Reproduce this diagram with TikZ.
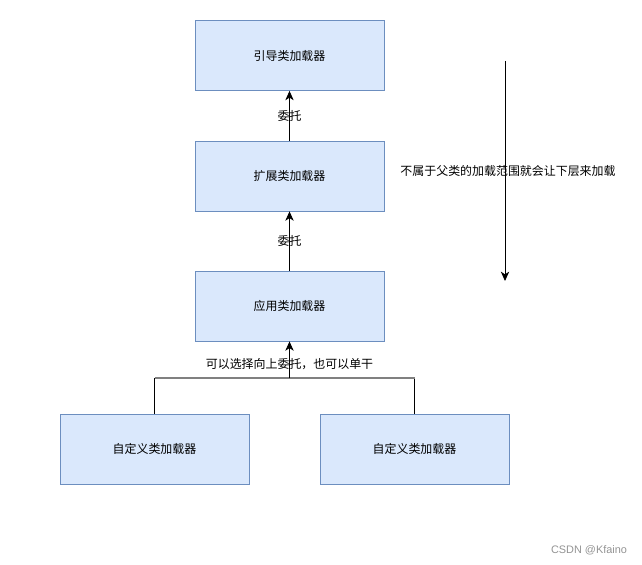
\documentclass[tikz,border=0pt]{standalone}
\usepackage{fontspec}
\newfontfamily\cjk{Noto Sans CJK SC}
\newfontfamily\markfont{Liberation Sans}
\usetikzlibrary{arrows.meta}
\definecolor{boxfill}{HTML}{DAE8FC}
\definecolor{boxline}{HTML}{6C8EBF}
\tikzset{
  loader/.style={draw=boxline,fill=boxfill,minimum width=189*0.3mm,minimum height=70*0.3mm,inner sep=0pt},
  edgelabel/.style={inner sep=1pt},
  flow/.style={-{Stealth[length=2.8mm,width=2.5mm,inset=0.8mm]}}
}
\begin{document}
\begin{tikzpicture}[x=0.03cm,y=-0.03cm,font=\cjk\fontsize{10.2pt}{12pt}\selectfont,line width=0.7pt]
\useasboundingbox (0,0) rectangle (642,565);
\node[loader] (boot) at (289.5,55.5) {引导类加载器};
\node[loader] (ext) at (289.5,176) {扩展类加载器};
\node[loader] (app) at (289.5,306) {应用类加载器};
\node[loader] (custa) at (154.5,449) {自定义类加载器};
\node[loader] (custb) at (414.5,449) {自定义类加载器};
% delegation upward
\draw[flow] (ext) -- node[edgelabel] {委托} (boot);
\draw[flow] (app) -- node[edgelabel] {委托} (ext);
\coordinate (fork) at (289.5,378);
\draw (custa.north) |- (fork) -| (custb.north);
\draw[gray,line width=1.7pt] (custa.north |- fork) -- (custb.north |- fork);
\draw[flow] (fork) -- (app);
\node[edgelabel] (choice) at (289.5,364) {可以选择向上委托，也可以单干};
% loading goes down
\coordinate (top) at (505,61);
\coordinate (bot) at (505,281);
\draw[flow] (top) -- (bot);
\node (down) at (508,171) {不属于父类的加载范围就会让下层来加载};
\node[gray!85,font=\markfont\fontsize{9.3pt}{11pt}\selectfont] (mark) at (589,550) {CSDN @Kfaino};
\end{tikzpicture}
\end{document}
